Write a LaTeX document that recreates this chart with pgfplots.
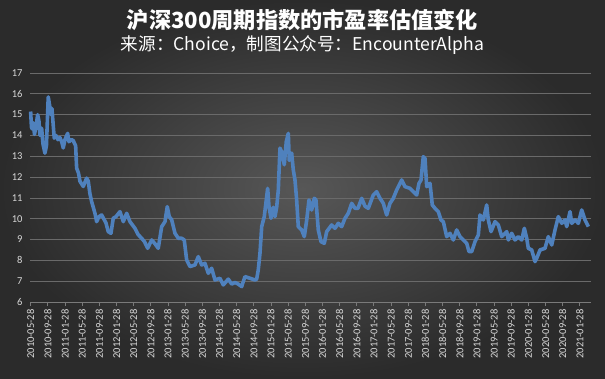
\documentclass[border=0pt]{standalone}
\usepackage{fontspec}
\setmainfont{Carlito}
\newfontfamily\cjk{Noto Sans CJK SC}
\usepackage{pgfplots}
\pgfplotsset{compat=1.18}
\definecolor{bgin}{HTML}{575757}
\definecolor{bgout}{HTML}{2B2B2B}
\definecolor{gridc}{HTML}{6A6A6A}
\definecolor{axc}{HTML}{7A7A7A}
\definecolor{linec}{HTML}{4F81BD}
\definecolor{lbl}{HTML}{D9D9D9}
\begin{document}
\begin{tikzpicture}
\shade[inner color=bgin, outer color=bgout] (0pt,0pt) rectangle (605pt,378pt);
\useasboundingbox (0pt,0pt) rectangle (605pt,378pt);
\node[text=white,font=\cjk\bfseries\fontsize{22.2}{25}\selectfont] at (302.5pt,358pt) {沪深300周期指数的市盈率估值变化};
\node[text=white,font=\cjk\fontsize{17.6}{20}\selectfont] at (302.5pt,333pt) {来源：Choice，制图公众号：EncounterAlpha};
\begin{axis}[at={(30pt,76pt)}, anchor=south west, scale only axis,
  width=561pt, height=229pt,
  xmin=-0.15, xmax=130.6, ymin=6, ymax=17,
  axis x line*=bottom, axis y line*=left,
  x axis line style={draw=axc, line width=0.8pt, -},
  y axis line style={draw=none},
  ytick={6,...,17},
  ytick style={draw=none},
  xtick={0,4,...,128},
  xtick style={draw=axc, line width=0.8pt},
  tick align=outside, major tick length=4pt,
  ymajorgrids, grid style={gridc, line width=0.8pt},
  /pgf/number format/assume math mode=true,
  yticklabel style={text=lbl, font=\fontsize{10.5}{12}\selectfont},
  xticklabel style={rotate=90, anchor=east, text=lbl, font=\fontsize{10.5}{12}\selectfont},
  xticklabels={2010-05-28,2010-09-28,2011-01-28,2011-05-28,2011-09-28,2012-01-28,2012-05-28,2012-09-28,2013-01-28,2013-05-28,2013-09-28,2014-01-28,2014-05-28,2014-09-28,2015-01-28,2015-05-28,2015-09-28,2016-01-28,2016-05-28,2016-09-28,2017-01-28,2017-05-28,2017-09-28,2018-01-28,2018-05-28,2018-09-28,2019-01-28,2019-05-28,2019-09-28,2020-01-28,2020-05-28,2020-09-28,2021-01-28},
  clip=false,
]
\addplot[linec, line width=3.6pt, line join=round] coordinates {
(0,15.15)(0.19,14.4)(0.42,14.3)(0.65,14.6)(0.89,14.05)(1.24,14.4)(1.63,15.0)(1.93,14.7)(2.17,14.0)(2.56,14.35)(2.87,13.6)(3.33,13.15)(3.68,13.5)(4.10,15.85)(4.38,15.5)(4.73,15.0)(4.96,15.3)(5.50,13.87)(5.90,14.0)(6.36,13.8)(6.83,13.9)(7.23,13.7)(7.60,13.4)(8.00,13.8)(8.62,14.1)(8.93,13.7)(9.56,13.8)(9.93,13.75)(10.49,13.5)(10.72,12.43)(11.14,12.2)(11.49,11.8)(12.26,11.55)(13.05,11.95)(13.43,11.8)(13.82,11.2)(14.22,10.82)(14.99,10.26)(15.38,9.86)(15.92,10.1)(16.55,10.18)(17.16,9.95)(17.55,9.8)(18.09,9.38)(18.72,9.3)(19.25,10.02)(19.88,10.1)(20.82,10.34)(21.59,9.86)(22.38,10.26)(23.15,9.86)(24.31,9.54)(25.01,9.25)(25.87,9.06)(26.53,8.9)(27.27,8.58)(28.21,8.98)(28.97,8.8)(29.74,8.58)(30.54,9.62)(31.31,9.86)(31.84,10.58)(32.31,10.1)(32.87,9.95)(33.64,9.3)(34.41,9.06)(35.20,9.06)(35.80,8.98)(36.36,8.02)(37.13,7.7)(38.30,7.78)(39.07,8.18)(39.86,7.78)(40.63,7.86)(41.40,7.38)(42.19,7.62)(42.96,7.06)(44.13,7.14)(44.90,6.82)(46.06,7.1)(46.85,6.86)(47.62,6.94)(48.39,6.86)(49.18,6.74)(49.95,7.22)(51.12,7.14)(52.28,7.06)(52.68,7.1)(53.05,7.54)(53.45,8.34)(53.85,9.62)(54.45,10.1)(55.01,11.06)(55.24,11.46)(55.55,10.6)(56.01,10.02)(56.55,10.55)(56.95,10.1)(57.34,10.55)(57.72,11.38)(58.11,13.39)(58.65,13.15)(59.11,12.59)(59.58,13.7)(60.05,14.1)(60.28,12.8)(60.84,13.15)(61.21,12.35)(61.61,11.86)(62.00,10.9)(62.38,9.62)(63.17,9.46)(63.78,9.14)(64.34,9.94)(64.87,10.9)(65.50,10.42)(66.11,10.98)(66.50,10.9)(67.04,9.46)(67.67,8.9)(68.44,8.82)(69.00,9.38)(70.16,9.7)(70.93,9.54)(71.70,9.78)(72.49,9.62)(73.26,10.02)(74.03,10.26)(74.83,10.74)(75.59,10.5)(76.29,10.5)(77.16,10.98)(77.93,10.6)(78.69,10.5)(79.86,11.14)(80.65,11.3)(81.42,10.98)(82.19,10.74)(82.98,10.18)(83.75,10.74)(84.52,10.98)(85.31,11.38)(86.48,11.86)(87.25,11.54)(88.41,11.46)(89.18,11.3)(89.98,11.14)(90.51,11.7)(90.98,11.86)(91.51,12.98)(91.91,12.9)(92.31,11.54)(93.08,11.7)(93.61,10.66)(94.24,10.5)(95.01,10.34)(95.64,9.94)(96.18,9.86)(96.97,9.14)(97.74,9.3)(98.51,8.98)(99.30,9.46)(100.07,9.14)(100.84,8.98)(101.63,8.82)(102.17,8.42)(102.80,8.42)(103.57,8.9)(104.34,9.22)(104.73,10.18)(105.50,9.94)(106.29,10.66)(106.67,9.94)(107.30,9.38)(108.23,9.86)(109.00,9.7)(109.79,9.14)(110.96,9.38)(111.33,8.98)(112.12,9.3)(112.89,8.98)(113.66,9.14)(114.45,8.98)(115.06,9.54)(115.62,9.06)(115.99,8.58)(116.78,8.5)(117.55,7.94)(117.95,8.1)(118.72,8.5)(119.88,8.58)(120.65,9.14)(121.45,8.74)(122.21,9.46)(122.98,10.1)(123.78,9.78)(124.55,9.94)(124.94,9.62)(125.71,10.34)(126.11,9.78)(126.88,9.94)(127.65,9.78)(128.44,10.42)(129.21,9.94)(129.98,9.62)
};
\end{axis}
\end{tikzpicture}
\end{document}
